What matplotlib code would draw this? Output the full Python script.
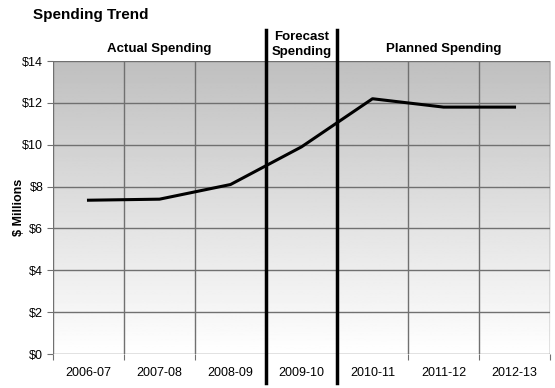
import matplotlib
matplotlib.use("Agg")
import matplotlib.pyplot as plt
import numpy as np

plt.rcParams['font.family'] = ['Liberation Sans', 'DejaVu Sans']

years = ['2006-07', '2007-08', '2008-09', '2009-10', '2010-11', '2011-12', '2012-13']
spending = [7.35, 7.4, 8.1, 9.9, 12.2, 11.8, 11.8]
yticks = [0, 2, 4, 6, 8, 10, 12, 14]
sections = ['Actual Spending', 'Forecast\nSpending', 'Planned Spending']
section_mid = [1, 3, 5]   # category index the label sits over
dividers = [2.5, 3.5]

fig = plt.figure(figsize=(5.55, 3.88), dpi=100)
ax = fig.add_axes([0.0955, 0.0876, 0.8955, 0.755])

n = len(years)
ax.set_xlim(-0.5, n - 0.5)
ax.set_ylim(0, 14)

# gradient background, gray at top to white at bottom
grad = np.linspace(1.0, 0.75, 256).reshape(-1, 1)
ax.imshow(grad, cmap='gray', vmin=0, vmax=1, aspect='auto',
          extent=(-0.5, n - 0.5, 0, 14), origin='lower', zorder=0)

for y in yticks:
    ax.axhline(y, color='#707070', lw=1, zorder=1)
for b in np.arange(-0.5, n, 1):
    ax.axvline(b, color='#707070', lw=1, zorder=1)

x = np.arange(n)
ax.plot(x, spending, color='black', lw=2.2, zorder=3)

trans = matplotlib.transforms.blended_transform_factory(ax.transData, ax.transAxes)
for d in dividers:
    ax.plot([d, d], [-0.10, 1.107], color='black', lw=2.5, transform=trans,
            clip_on=False, zorder=4)

ax.set_yticks(yticks)
ax.set_yticklabels(['$%d' % v for v in yticks], fontsize=9)
ax.set_xticks(np.arange(-0.5, n, 1), minor=False)
ax.set_xticklabels([])
ax.set_xticks(x, minor=True)
ax.set_xticklabels(years, minor=True, fontsize=9)
ax.tick_params(axis='x', which='minor', length=0, pad=9)
ax.tick_params(axis='x', which='major', length=4, color='#707070')
ax.tick_params(axis='y', length=4, color='#707070', pad=3)
for s in ax.spines.values():
    s.set_visible(False)
ax.set_ylabel('$ Millions', fontsize=9, fontweight='bold', labelpad=-2)

for lab, m in zip(sections, section_mid):
    ax.text(m, 1.022 if '\n' not in lab else 1.012, lab, transform=trans,
            ha='center', va='bottom', fontsize=9.5, fontweight='bold',
            linespacing=1.25)

fig.text(0.059, 0.962, 'Spending Trend', fontsize=11, fontweight='bold',
         ha='left', va='center')

fig.savefig('out.png', dpi=100)
